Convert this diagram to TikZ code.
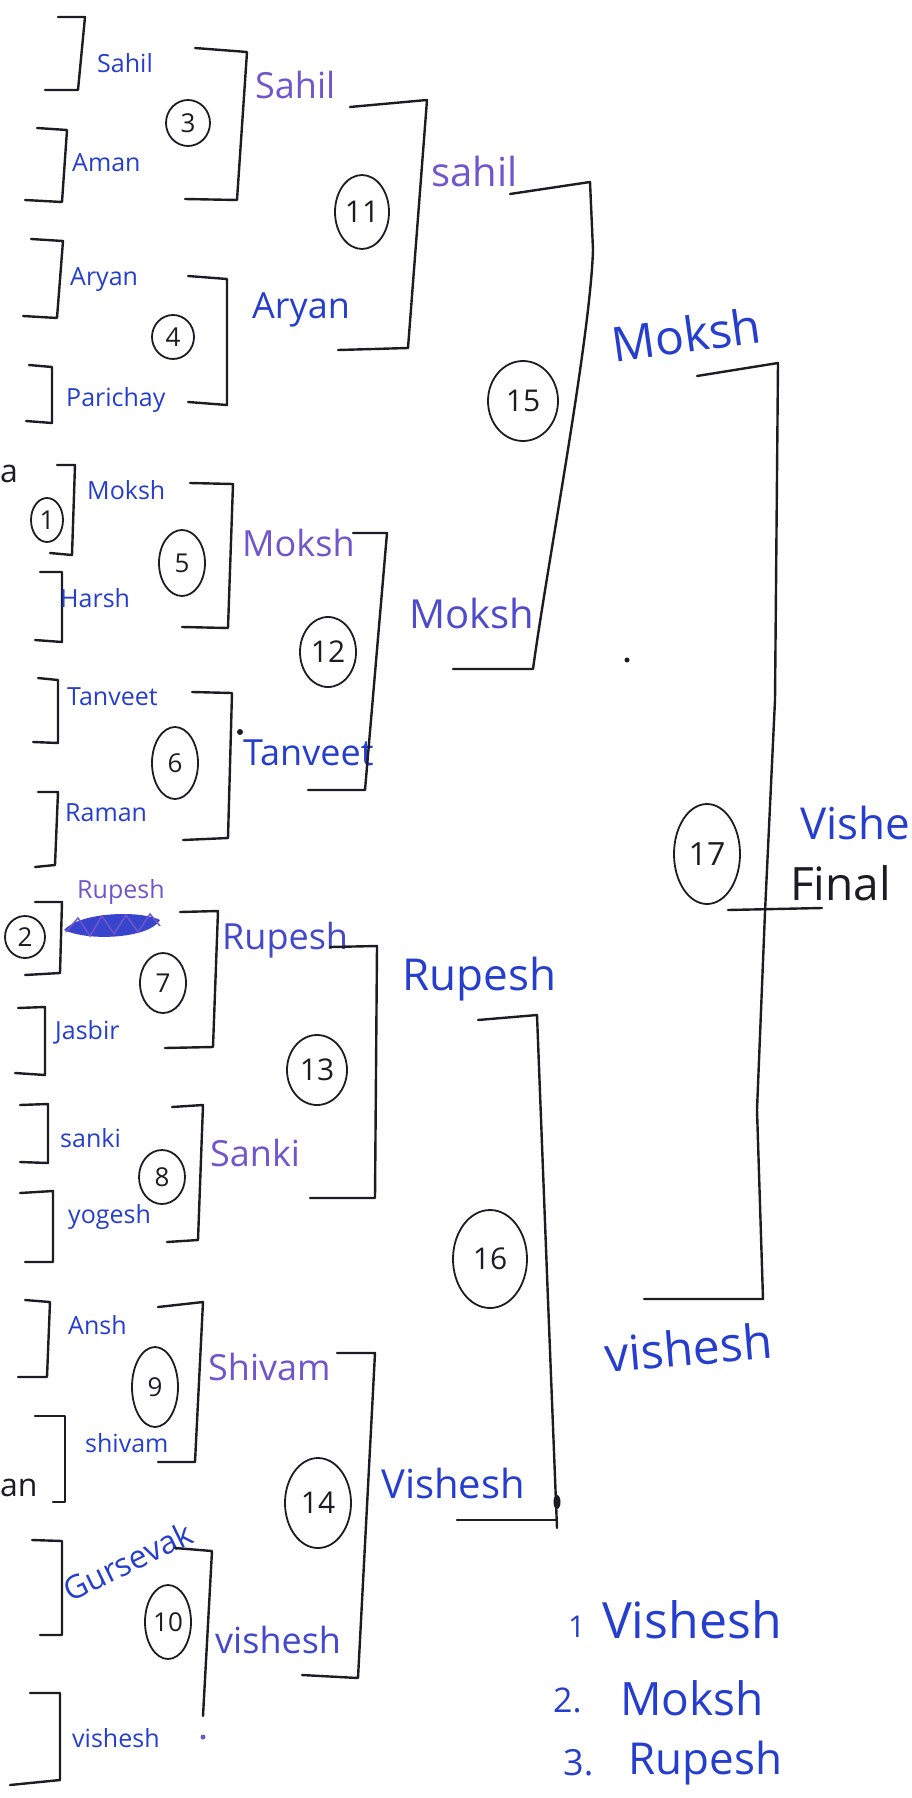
\documentclass[tikz,border=0pt]{standalone}
\usepackage{fontspec}
\setmainfont{Open Sans}
\usetikzlibrary{shapes.geometric}

\definecolor{inkblue}{RGB}{38,62,205}
\definecolor{inkviolet}{RGB}{112,86,205}
\definecolor{pen}{RGB}{28,28,36}

\tikzset{
  brk/.style={pen,line width=2.4pt,line cap=round,line join=round},
  rnd/.style={draw=pen,line width=1.8pt,ellipse,inner sep=0pt,text=pen,font=\fontsize{26}{26}\selectfont},
  nm/.style={anchor=west,inner sep=0pt,text=inkblue},
  seedname/.style={nm,font=\fontsize{25}{25}\selectfont},
  winone/.style={nm,font=\fontsize{36}{36}\selectfont},
  wintwo/.style={nm,font=\fontsize{40}{40}\selectfont},
  winthree/.style={nm,font=\fontsize{48}{48}\selectfont},
  podium/.style={nm,font=\fontsize{50}{50}\selectfont}
}

\begin{document}
\begin{tikzpicture}[x=1pt,y=-1pt]
\useasboundingbox (0,0) rectangle (912,1798);

% first column of brackets
\draw[brk] (58,17)--(85,17)--(78,90)--(45,90);
\draw[brk] (37,128)--(67,130)--(62,202)--(25,200);
\draw[brk] (31,239)--(63,241)--(57,318)--(23,316);
\draw[brk] (29,365)--(52,367)--(52,423)--(26,421);
\draw[brk] (57,465)--(75,465)--(72,555)--(50,553);
\draw[brk] (40,572)--(62,572)--(62,642)--(35,640);
\draw[brk] (38,678)--(58,680)--(58,743)--(33,742);
\draw[brk] (38,792)--(58,792)--(55,865)--(35,867);
\draw[brk] (35,902)--(62,902)--(60,973)--(25,975);
\draw[brk] (18,1008)--(45,1007)--(45,1075)--(15,1073);
\draw[brk] (20,1105)--(48,1104)--(48,1163)--(20,1162);
\draw[brk] (20,1193)--(53,1191)--(53,1262)--(25,1262);
\draw[brk] (25,1300)--(50,1302)--(47,1377)--(18,1377);
\draw[brk] (35,1416)--(65,1416)--(65,1502)--(53,1502);
\draw[brk] (32,1540)--(62,1541)--(62,1635)--(40,1635);
\draw[brk] (30,1693)--(60,1693)--(60,1780)--(10,1785);

% players
\node[seedname] (p1) at (97,63) {Sahil};
\node[seedname] (p2) at (72,163) {Aman};
\node[seedname] (p3) at (70,280) {Aryan};
\node[seedname] (p4) at (66,400) {Parichay};
\node[seedname] (p5) at (87,490) {Moksh};
\node[seedname] (p6) at (60,598) {Harsh};
\node[seedname] (p7) at (67,697) {Tanveet};
\node[seedname] (p8) at (65,813) {Raman};
\node[seedname,text=inkviolet] (p9) at (77,892) {Rupesh};
\node[seedname] (p10) at (55,1032) {Jasbir};
\node[seedname] (p11) at (60,1138) {sanki};
\node[seedname] (p12) at (68,1217) {yogesh};
\node[seedname] (p13) at (68,1325) {Ansh};
\node[seedname] (p14) at (85,1443) {shivam};
\node[seedname,rotate=26,font=\fontsize{32}{32}\selectfont] (p15) at (65,1592) {Gursevak};
\node[seedname] (p16) at (72,1738) {vishesh};
\fill[inkviolet] (203,1737) circle (2.5);

% crossed out name
\fill[inkblue!75!inkviolet] (64,930) .. controls (80,912) and (140,910) .. (160,920)
  .. controls (150,938) and (90,942) .. (64,930);
\draw[inkviolet,line width=1.5pt] (66,932)--(78,918)--(90,936)--(102,916)--(114,934)--(126,915)--(138,932)--(150,914)--(160,926);

% cut off words on the left
\node[anchor=west,inner sep=0pt,text=pen,font=\fontsize{32}{32}\selectfont] (na) at (0,474) {a};
\node[anchor=west,inner sep=0pt,text=pen,font=\fontsize{32}{32}\selectfont] (nan) at (0,1488) {an};

% seeds
\node[rnd,minimum width=32pt,minimum height=44pt] (s1) at (47,520) {1};
\node[rnd,minimum width=40pt,minimum height=42pt] (s2) at (25,937) {2};

% second column
\draw[brk] (195,48)--(247,52)--(237,200)--(185,199);
\draw[brk] (188,276)--(227,279)--(227,405)--(188,402);
\draw[brk] (190,483)--(233,484)--(228,628)--(182,627);
\draw[brk] (192,692)--(232,693)--(228,838)--(183,840);
\draw[brk] (180,912)--(218,911)--(213,1047)--(165,1048);
\draw[brk] (172,1107)--(203,1105)--(198,1240)--(167,1242);
\draw[brk] (158,1307)--(203,1302)--(195,1462)--(158,1462);
\draw[brk] (175,1548)--(212,1551)--(203,1716);

\node[rnd,minimum width=44pt,minimum height=46pt] (m3) at (188,123) {3};
\node[rnd,minimum width=42pt,minimum height=44pt] (m4) at (173,337) {4};
\node[rnd,minimum width=46pt,minimum height=66pt] (m5) at (182,563) {5};
\node[rnd,minimum width=46pt,minimum height=72pt] (m6) at (175,763) {6};
\node[rnd,minimum width=46pt,minimum height=60pt] (m7) at (163,983) {7};
\node[rnd,minimum width=46pt,minimum height=54pt] (m8) at (162,1177) {8};
\node[rnd,minimum width=46pt,minimum height=80pt] (m9) at (155,1387) {9};
\node[rnd,minimum width=46pt,minimum height=74pt] (m10) at (168,1622) {10};

\node[winone,text=inkviolet] (w3) at (255,85) {Sahil};
\node[winone] (w4) at (252,310) {Aryan};
\node[winone,text=inkviolet] (w5) at (242,543) {Moksh};
\node[winone] (w6) at (243,753) {Tanveet};
\fill[pen] (240,732) circle (3);
\node[winone,text=inkblue!60!inkviolet] (w7) at (222,940) {Rupesh};
\node[winone,text=inkviolet] (w8) at (210,1153) {Sanki};
\node[winone,text=inkviolet] (w9) at (208,1367) {Shivam};
\node[winone,text=inkblue!60!inkviolet] (w10) at (215,1640) {vishesh};

% third column
\draw[brk] (350,107)--(427,100)--(408,348)--(338,350);
\draw[brk] (353,533)--(387,533)--(365,790)--(308,790);
\draw[brk] (330,947)--(377,946)--(375,1198)--(310,1198);
\draw[brk] (337,1353)--(375,1353)--(358,1678)--(302,1675);

\node[rnd,minimum width=54pt,minimum height=74pt,font=\fontsize{30}{30}\selectfont] (m11) at (362,212) {11};
\node[rnd,minimum width=56pt,minimum height=70pt,font=\fontsize{30}{30}\selectfont] (m12) at (328,652) {12};
\node[rnd,minimum width=60pt,minimum height=70pt,font=\fontsize{30}{30}\selectfont] (m13) at (317,1070) {13};
\node[rnd,minimum width=66pt,minimum height=90pt,font=\fontsize{30}{30}\selectfont] (m14) at (318,1503) {14};

\node[wintwo,text=inkviolet] (w11) at (431,171) {sahil};
\node[wintwo,text=inkblue!45!inkviolet] (w12) at (409,613) {Moksh};
\node[wintwo,font=\fontsize{44}{44}\selectfont] (w13) at (402,979) {Rupesh};
\node[wintwo] (w14) at (381,1483) {Vishesh};

% fourth column
\draw[brk] (510,194)--(590,182)--(593,250) .. controls (590,340) and (548,560) .. (533,669)--(453,669);
\draw[brk] (478,1020)--(537,1015)--(548,1300)--(557,1528);
\draw[brk] (457,1520)--(557,1520);
\fill[pen] (557,1502) ellipse (3.5 and 7);
\fill[pen] (627,660) circle (2.5);

\node[rnd,minimum width=70pt,minimum height=80pt,font=\fontsize{30}{30}\selectfont] (m15) at (523,401) {15};
\node[rnd,minimum width=74pt,minimum height=98pt,font=\fontsize{30}{30}\selectfont] (m16) at (490,1259) {16};

\node[winthree,rotate=8] (w15) at (612,345) {Moksh};
\node[winthree,rotate=5] (w16) at (605,1355) {vishesh};

% final
\draw[brk] (697,376)--(778,363)--(775,700)--(765,912)--(757,1110)--(763,1299)--(644,1299);
\draw[brk] (728,910)--(822,908);
\node[rnd,minimum width=66pt,minimum height=100pt,font=\fontsize{32}{32}\selectfont] (m17) at (707,854) {17};
\node[nm,font=\fontsize{44}{44}\selectfont] (champ) at (800,823) {Vishe};
\node[nm,text=pen,font=\fontsize{46}{46}\selectfont] (fin) at (790,883) {Final};

% result list
\node[nm,font=\fontsize{30}{30}\selectfont] (n1) at (568,1627) {1};
\node[podium] (l1) at (602,1620) {Vishesh};
\node[nm,font=\fontsize{34}{34}\selectfont] (n2) at (553,1700) {2.};
\node[podium,font=\fontsize{46}{46}\selectfont] (l2) at (620,1698) {Moksh};
\node[nm,font=\fontsize{36}{36}\selectfont] (n3) at (563,1763) {3.};
\node[podium,font=\fontsize{44}{44}\selectfont] (l3) at (628,1763) {Rupesh};
\end{tikzpicture}
\end{document}
